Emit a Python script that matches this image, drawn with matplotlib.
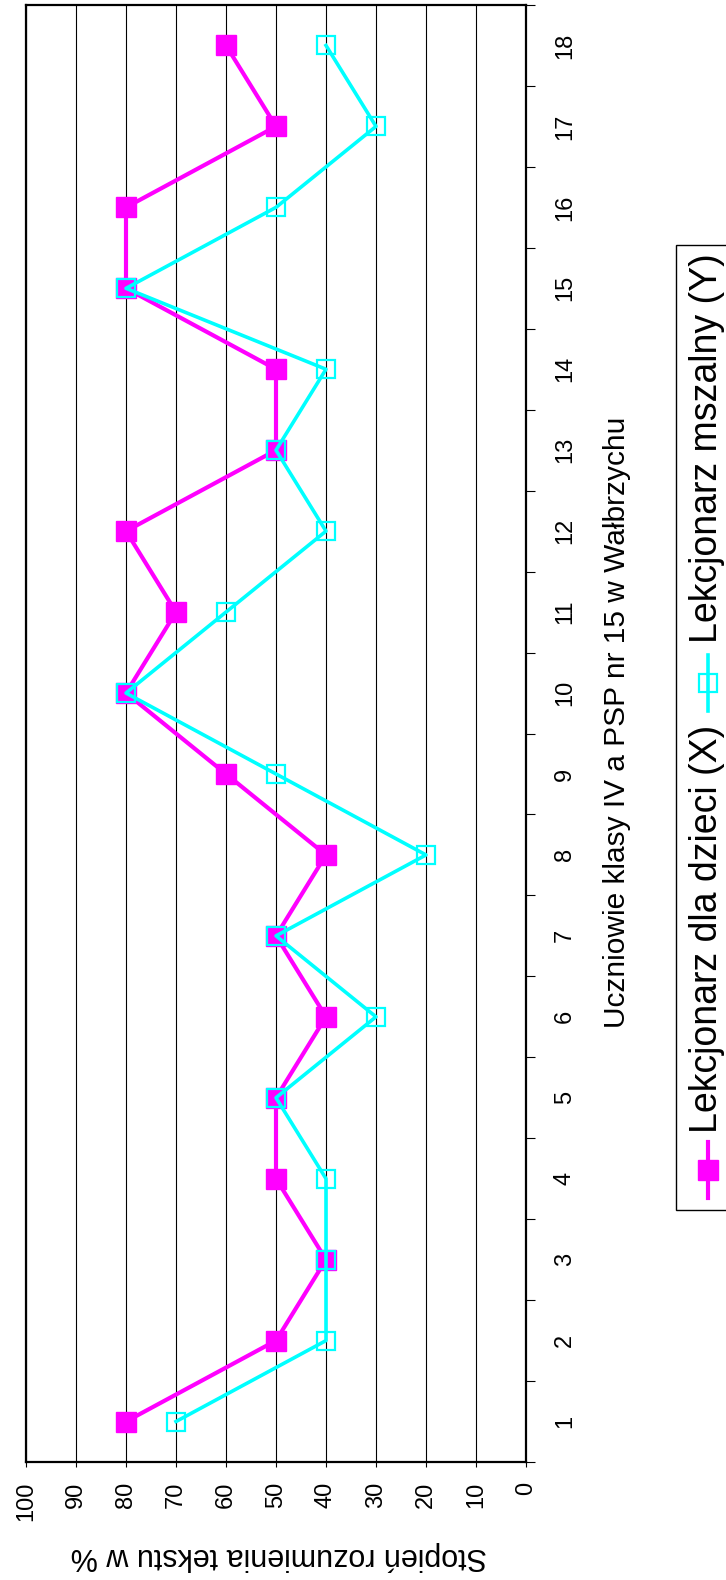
import numpy as np
import matplotlib
matplotlib.use("Agg")
import matplotlib.pyplot as plt
from matplotlib.lines import Line2D
from matplotlib.patches import Rectangle

plt.rcParams['font.family'] = ['Liberation Sans', 'DejaVu Sans']

# data: students 1..18, understanding in %
students = list(range(1, 19))
kids = [80, 50, 40, 50, 50, 40, 50, 40, 60, 80, 70, 80, 50, 50, 80, 80, 50, 60]
missal = [70, 40, 40, 40, 50, 30, 50, 20, 50, 80, 60, 40, 50, 40, 80, 50, 30, 40]
value_ticks = list(range(0, 101, 10))

label_kids = "Lekcjonarz dla dzieci (X)"
label_missal = "Lekcjonarz mszalny (Y)"
xlab = "Uczniowie klasy IV a PSP nr 15 w Wałbrzychu"
ylab = "Stopień rozumienia tekstu w %"

MAG = "#ff00ff"
CYAN = "#00ffff"

W, H = 726, 1580
fig = plt.figure(figsize=(W / 100, H / 100), dpi=100)

def fx(px):
    return px / W

def fy(py):
    return 1 - py / H

# chart is drawn turned on its side: values run right-to-left, students bottom-to-top
ax = fig.add_axes([fx(26), fy(1462), (526 - 26) / W, (1462 - 5) / H])
ax.plot(kids, students, color=MAG, lw=3, marker="s", ms=14,
        mfc=MAG, mec=MAG, zorder=3)
ax.plot(missal, students, color=CYAN, lw=2.6, marker="s", ms=13,
        mfc="none", mec=CYAN, mew=1.6, zorder=4)

ax.set_xlim(100, 0)
ax.set_ylim(0.5, 18.5)
ax.set_xticks(value_ticks)
ax.set_xticklabels([str(v) for v in value_ticks])
ax.tick_params(axis="x", direction="out", length=3.6, width=0.8, pad=10.5,
               labelsize=17, labelrotation=90)
ax.xaxis.grid(True, color="black", lw=0.8)
ax.set_axisbelow(True)

ax.yaxis.tick_right()
ax.set_yticks(students)
ax.set_yticklabels([str(s) for s in students])
ax.set_yticks(np.arange(0.5, 19, 1), minor=True)
ax.tick_params(axis="y", which="major", length=0, pad=20, labelsize=17,
               labelrotation=90)
ax.tick_params(axis="y", which="minor", direction="out", length=6.5, width=0.8,
               right=True, left=False)
for lab in ax.get_yticklabels():
    lab.set_va("center")

for sp in ax.spines.values():
    sp.set_linewidth(1.6)
    sp.set_color("black")

# axis titles
fig.text(fx(617), fy(722), xlab, rotation=90, ha="center", va="center",
         fontsize=21.5)
fig.text(fx(279), fy(1556), ylab, rotation=180, ha="center", va="center",
         fontsize=22)

# legend, turned like the rest
fig.add_artist(Rectangle((fx(676), fy(1210)), (60) / W, (1210 - 245) / H,
                         transform=fig.transFigure, fc="white", ec="black",
                         lw=1, clip_on=False))
fig.add_artist(Line2D([fx(708), fx(708)], [fy(1142), fy(1198)],
                      transform=fig.transFigure, color=MAG, lw=3))
fig.add_artist(Line2D([fx(708)], [fy(1170)], transform=fig.transFigure,
                      marker="s", ms=14, mfc=MAG, mec=MAG, lw=0))
fig.text(fx(707), fy(1133), label_kids, rotation=90, ha="center",
         va="bottom", fontsize=27)
fig.add_artist(Line2D([fx(708), fx(708)], [fy(655), fy(711)],
                      transform=fig.transFigure, color=CYAN, lw=2.6))
fig.add_artist(Line2D([fx(708)], [fy(683)], transform=fig.transFigure,
                      marker="s", ms=13, mfc="none", mec=CYAN, mew=1.6, lw=0))
fig.text(fx(707), fy(643), label_missal, rotation=90, ha="center",
         va="bottom", fontsize=27)

fig.savefig("out.png", dpi=100)
